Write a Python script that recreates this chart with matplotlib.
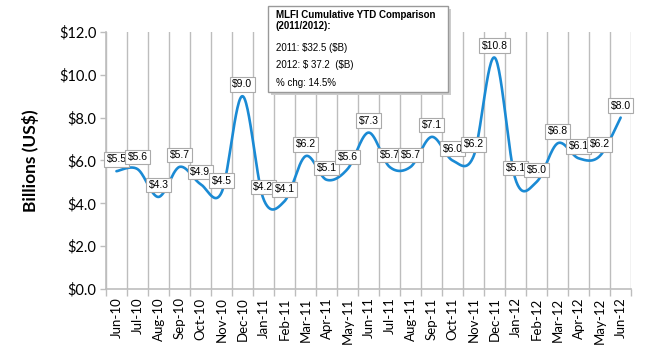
import numpy as np
import matplotlib
matplotlib.use("Agg")
import matplotlib.pyplot as plt
from matplotlib.patches import FancyBboxPatch

months = ["Jun-10", "Jul-10", "Aug-10", "Sep-10", "Oct-10", "Nov-10", "Dec-10",
          "Jan-11", "Feb-11", "Mar-11", "Apr-11", "May-11", "Jun-11", "Jul-11",
          "Aug-11", "Sep-11", "Oct-11", "Nov-11", "Dec-11", "Jan-12", "Feb-12",
          "Mar-12", "Apr-12", "May-12", "Jun-12"]
values = [5.5, 5.6, 4.3, 5.7, 4.9, 4.5, 9.0, 4.2, 4.1, 6.2, 5.1, 5.6, 7.3, 5.7,
          5.7, 7.1, 6.0, 6.2, 10.8, 5.1, 5.0, 6.8, 6.1, 6.2, 8.0]
yticks = [0, 2, 4, 6, 8, 10, 12]
box_title = "MLFI Cumulative YTD Comparison\n(2011/2012):"
box_lines = ["2011: \\$32.5 (\\$B)", "2012: \\$ 37.2  (\\$B)", "% chg: 14.5%"]

blue = "#1a8ad4"
grid_c = "#bdbdbd"


def smooth(x, y, n=30):
    x = np.asarray(x, float)
    y = np.asarray(y, float)
    px = np.concatenate([[x[0]], x, [x[-1]]])
    py = np.concatenate([[y[0]], y, [y[-1]]])
    xs, ys = [], []
    t = np.linspace(0, 1, n)
    for i in range(1, len(px) - 2):
        p0 = np.array([px[i], py[i]])
        p3 = np.array([px[i + 1], py[i + 1]])
        p1 = p0 + (np.array([px[i + 1], py[i + 1]]) - np.array([px[i - 1], py[i - 1]])) / 6
        p2 = p3 - (np.array([px[i + 2], py[i + 2]]) - np.array([px[i], py[i]])) / 6
        b = ((1 - t) ** 3)[:, None] * p0 + (3 * (1 - t) ** 2 * t)[:, None] * p1 \
            + (3 * (1 - t) * t ** 2)[:, None] * p2 + (t ** 3)[:, None] * p3
        xs.append(b[:, 0])
        ys.append(b[:, 1])
    return np.concatenate(xs), np.concatenate(ys)


fig = plt.figure(figsize=(6.5, 3.5), dpi=100)
ax = fig.add_axes([0.163, 0.174, 0.808, 0.735])

x = np.arange(len(values))
sx, sy = smooth(x, values)
ax.plot(sx, sy, color=blue, lw=1.9, solid_capstyle="round", zorder=3)

ax.set_xlim(-0.5, len(values) - 0.5)
ax.set_ylim(0, 12)
ax.set_yticks(yticks)
ax.set_yticklabels([f"${v:.1f}" for v in yticks], fontfamily="Lato", fontsize=10.5)
ax.set_xticks(x)
ax.set_xticklabels(months, rotation=90, fontfamily="Lato", fontsize=9.5)
ax.set_xticks(np.arange(len(values) + 1) - 0.5, minor=True)
ax.tick_params(axis="x", which="major", length=0, pad=6)
ax.tick_params(axis="x", which="minor", length=5, color=grid_c, width=1)
ax.tick_params(axis="y", length=4, color=grid_c, width=1, pad=3)
ax.grid(True, which="minor", axis="x", color=grid_c, lw=1)
ax.set_axisbelow(True)
for s in ["top", "right"]:
    ax.spines[s].set_visible(False)
for s in ["left", "bottom"]:
    ax.spines[s].set_color(grid_c)
    ax.spines[s].set_linewidth(1.2)

ax.set_ylabel("Billions (US$)", fontfamily="Lato", fontweight="bold", fontsize=12.5, labelpad=14)

for xi, v in zip(x, values):
    ax.annotate(f"${v:.1f}", (xi, v), xytext=(0, 5), textcoords="offset points",
                ha="center", va="bottom", fontsize=7.5, fontfamily="Liberation Sans",
                bbox=dict(boxstyle="square,pad=0.22", fc="white", ec="#aaaaaa", lw=0.8),
                zorder=5)

# info box
bx0, by0, bw, bh = 268 / 650, 1 - 92 / 350, 180 / 650, 86 / 350
shadow = FancyBboxPatch((bx0 + 0.004, by0 - 0.008), bw, bh, boxstyle="square,pad=0",
                        transform=fig.transFigure, fc="#cccccc", ec="none", zorder=9)
box = FancyBboxPatch((bx0, by0), bw, bh, boxstyle="square,pad=0",
                     transform=fig.transFigure, fc="white", ec="#999999", lw=1, zorder=10)
fig.patches.extend([shadow, box])
fig.text(bx0 + 0.012, 1 - 10 / 350, box_title, fontsize=7, fontweight="bold",
         fontfamily="Liberation Sans", va="top", ha="left", zorder=11, linespacing=1.15)
for i, line in enumerate(box_lines):
    fig.text(bx0 + 0.012, 1 - (48 + i * 17.5) / 350, line, fontsize=7,
             fontfamily="Liberation Sans", va="center", ha="left", zorder=11)

fig.savefig("out.png", dpi=100)
